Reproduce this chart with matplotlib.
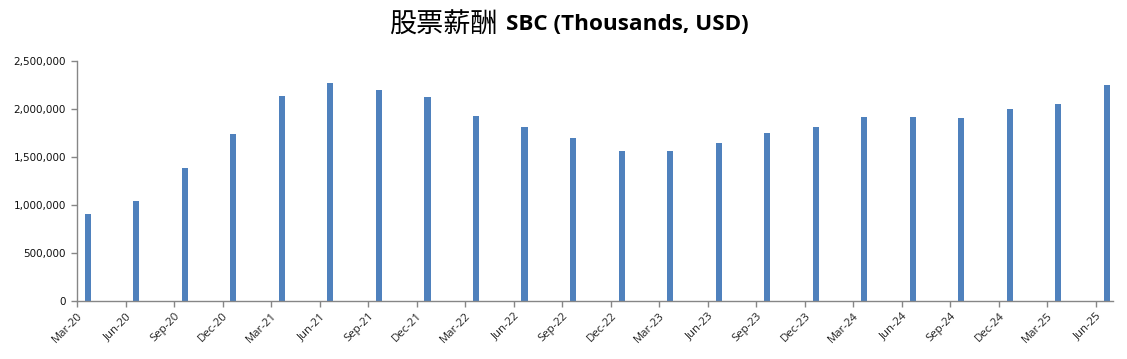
#!/usr/bin/env python3

import numpy as np
import matplotlib.pyplot as plt
import matplotlib.transforms as mtransforms
from matplotlib.ticker import FuncFormatter

quarters = ["Mar-20", "Jun-20", "Sep-20", "Dec-20",
            "Mar-21", "Jun-21", "Sep-21", "Dec-21",
            "Mar-22", "Jun-22", "Sep-22", "Dec-22",
            "Mar-23", "Jun-23", "Sep-23", "Dec-23",
            "Mar-24", "Jun-24", "Sep-24", "Dec-24",
            "Mar-25", "Jun-25"]
sbc = [905000, 1040000, 1385000, 1740000,
       2135000, 2270000, 2198000, 2128000,
       1927000, 1810000, 1700000, 1562000,
       1560000, 1646000, 1750000, 1810000,
       1917000, 1917000, 1906000, 2000000,
       2052000, 2250000]
yticks = [0, 500000, 1000000, 1500000, 2000000, 2500000]

def main():
	fig = plt.figure(figsize=(11.27, 3.59), dpi=100)
	ax = fig.add_axes([77/1127, 58/359, (1113-77)/1127, 240/359])

	xarr = np.arange(len(quarters))
	# bars sit a little right of each tick, like the excel date axis
	ax.bar(xarr + 0.16, sbc, width=0.125, color="#4F81BD", align="edge")

	ax.set_xlim(0, 21.35)
	ax.set_ylim(0, 2500000)
	ax.set_xticks(xarr)
	ax.set_xticklabels(quarters, rotation=45, ha="right", rotation_mode="anchor",
	                   fontsize=8.2, family="Open Sans", color="#222222")
	ax.set_yticks(yticks)
	ax.yaxis.set_major_formatter(FuncFormatter(lambda v, p: "{:,.0f}".format(v)))
	for lab in ax.get_yticklabels():
		lab.set_fontsize(7.5)
		lab.set_color("#111111")

	offset = mtransforms.ScaledTranslation(17/100, -3/100, fig.dpi_scale_trans)
	for lab in ax.get_xticklabels():
		lab.set_transform(lab.get_transform() + offset)

	for s in ["top", "right"]:
		ax.spines[s].set_visible(False)
	for s in ["left", "bottom"]:
		ax.spines[s].set_color("#868686")
		ax.spines[s].set_linewidth(1)
	ax.tick_params(axis="both", direction="out", length=4, color="#868686", width=1)
	ax.tick_params(axis="y", pad=4)
	ax.tick_params(axis="x", pad=3)

	fig.text(498/1127, 1 - 25/359, "股票薪酬", ha="right", va="center",
	         fontsize=19.5, family=["Noto Sans CJK SC", "DejaVu Sans"], color="black")
	fig.text(506/1127, 1 - 24/359, "SBC (Thousands, USD)", ha="left", va="center",
	         fontsize=16.2, family="Open Sans", fontweight="bold", color="black")

	fig.savefig("out.png", dpi=100)
	plt.close()

if __name__ == "__main__":
	main()
